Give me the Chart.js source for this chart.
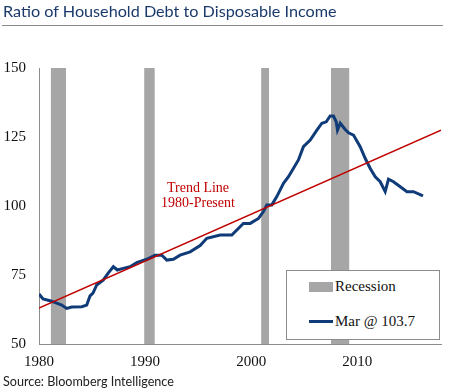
<!DOCTYPE html>
<html lang="en">
<head>
  <meta charset="UTF-8" />
  <title>Ratio of Household Debt to Disposable Income</title>
  <script src="https://cdn.jsdelivr.net/npm/chart.js"></script>
  <style>
    body { margin: 0; background: #fff; }
    #wrap { position: relative; width: 450px; height: 390px; overflow: hidden; }
    #title {
      position: absolute; left: 3px; top: 0px;
      font-family: Lato, sans-serif; font-size: 16.2px; color: #1b3a6b;
      white-space: nowrap; line-height: 22px;
    }
    #rule { position: absolute; left: 2px; top: 25px; width: 441px; height: 1px; background: #8a8a8a; }
    #source {
      position: absolute; left: 3px; top: 373px;
      font-family: Lato, sans-serif; font-size: 12.6px; color: #222;
      white-space: nowrap; line-height: 17px;
    }
    #trend {
      position: absolute; left: 148px; top: 180px; width: 100px; text-align: center;
      font-family: "Liberation Serif", serif; font-size: 14px; color: #c00000; line-height: 15px;
    }
    #legend {
      position: absolute; left: 286px; top: 270px; width: 152px; height: 68px;
      border: 1px solid #8c8c8c; background: #fff;
      font-family: "Liberation Serif", serif; font-size: 15px; color: #111;
    }
    .item { position: absolute; left: 22px; white-space: nowrap; }
    .item span { display: inline-block; vertical-align: middle; }
    .sw-bar { width: 24px; height: 10px; background: #a6a6a6; margin-right: 2px; }
    .sw-line { width: 24px; height: 3px; background: #0f3b78; margin-right: 2px; }
    canvas { position: absolute; left: 0; top: 0; }
  </style>
</head>
<body>
<div id="wrap">
  <canvas id="chart" width="450" height="390"></canvas>
  <div id="title">Ratio of Household Debt to Disposable Income</div>
  <div id="rule"></div>
  <div id="trend">Trend Line<br>1980-Present</div>
  <div id="legend">
    <div class="item" style="top:6px"><span class="sw-bar"></span><span>Recession</span></div>
    <div class="item" style="top:41px"><span class="sw-line"></span><span>Mar @ 103.7</span></div>
  </div>
  <div id="source">Source: Bloomberg Intelligence</div>
</div>

<script>
  // household debt / disposable income
  const years = [1980.0, 1980.38, 1981.04, 1981.67, 1982.14, 1982.61, 1983.08, 1984.03, 1984.5, 1984.81,
    1985.09, 1985.44, 1986.07, 1986.54, 1987.01, 1987.39, 1987.95, 1988.58, 1989.22, 1990.16,
    1990.94, 1991.58, 1992.05, 1992.67, 1993.3, 1994.25, 1995.19, 1995.82, 1997.08, 1998.18,
    1999.27, 1999.91, 2000.69, 2001.16, 2001.48, 2001.95, 2002.42, 2003.05, 2003.52, 2004.46,
    2004.93, 2005.57, 2006.2, 2006.67, 2007.08, 2007.45, 2007.76, 2008.02, 2008.14, 2008.4,
    2008.87, 2009.18, 2009.65, 2010.28, 2010.75, 2011.23, 2011.7, 2012.17, 2012.64, 2012.95,
    2013.42, 2014.06, 2014.69, 2015.31, 2016.2];
  const ratio = [68.1, 66.3, 65.7, 64.8, 64.1, 62.9, 63.4, 63.5, 64.1, 67.4,
    68.4, 71.4, 73.2, 75.8, 78.0, 76.8, 77.4, 78.0, 79.5, 80.7,
    82.2, 82.2, 80.4, 80.7, 82.2, 83.4, 85.7, 88.3, 89.5, 89.5,
    93.7, 93.7, 95.5, 98.0, 100.4, 100.4, 103.4, 108.2, 110.6, 116.7,
    121.5, 123.9, 127.5, 130.0, 130.5, 132.6, 132.6, 130.5, 127.5, 130.0,
    127.7, 126.5, 125.7, 121.5, 117.3, 113.6, 110.6, 108.8, 105.2, 109.7,
    108.8, 107.0, 105.2, 105.2, 103.7];

  const trendYears = [1980, 2017.9];
  const trendValues = [63, 127.5];

  const recessionStart = [1981.1, 1989.91, 2000.94, 2007.52];
  const recessionEnd = [1982.55, 1990.92, 2001.7, 2009.27];

  const yMin = 50, yMax = 150, yStep = 25;
  const xMin = 1980, xMax = 2017.9, xStep = 10;

  const recessionSets = recessionStart.map((s, i) => ({
    type: 'line',
    data: [{ x: s, y: yMax }, { x: recessionEnd[i], y: yMax }],
    borderWidth: 0,
    pointRadius: 0,
    backgroundColor: '#a6a6a6',
    fill: { value: yMin },
    order: 3
  }));

  new Chart(document.getElementById('chart'), {
    type: 'line',
    data: {
      datasets: [
        ...recessionSets,
        {
          data: years.map((y, i) => ({ x: y, y: ratio[i] })),
          borderColor: '#0f3b78',
          borderWidth: 3,
          pointRadius: 0,
          fill: false,
          tension: 0,
          order: 2
        },
        {
          data: trendYears.map((y, i) => ({ x: y, y: trendValues[i] })),
          borderColor: '#c00000',
          borderWidth: 1.5,
          pointRadius: 0,
          fill: false,
          order: 1
        }
      ]
    },
    options: {
      responsive: false,
      animation: false,
      layout: { padding: { top: 68, right: 9, left: 0, bottom: 0 } },
      plugins: { legend: { display: false }, tooltip: { enabled: false } },
      scales: {
        x: {
          type: 'linear',
          min: xMin, max: xMax,
          grid: { display: false, drawTicks: false },
          border: { display: true, color: '#8c8c8c', width: 1 },
          ticks: {
            stepSize: xStep, includeBounds: false, autoSkip: false, maxRotation: 0,
            padding: 9, color: '#111',
            font: { family: 'Liberation Serif', size: 15 },
            callback: v => String(v)
          },
          afterFit: s => { s.height = 46; }
        },
        y: {
          min: yMin, max: yMax,
          grid: { display: false, drawTicks: false },
          border: { display: true, color: '#8c8c8c', width: 1 },
          ticks: {
            stepSize: yStep, padding: 13, color: '#111',
            font: { family: 'Liberation Serif', size: 15 }
          },
          afterFit: s => { s.width = 39; }
        }
      }
    }
  });
</script>
</body>
</html>
